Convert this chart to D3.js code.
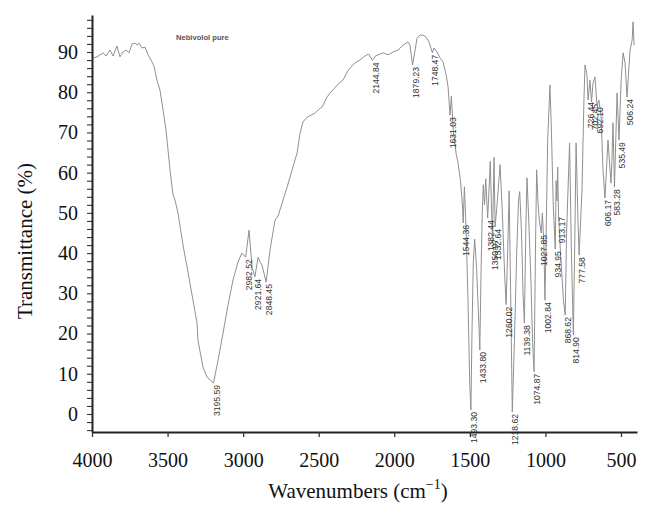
<!DOCTYPE html>
<html>
<head>
<meta charset="utf-8">
<script src="https://cdn.jsdelivr.net/npm/d3@7/dist/d3.min.js"></script>
<style>
  html, body { margin: 0; padding: 0; background: #fff; }
  svg { display: block; }
  .serif { font-family: "Liberation Serif", "DejaVu Serif", "Times New Roman", serif; }
</style>
</head>
<body>
<svg id="chart" width="650" height="517"></svg>
<script>
// ---- Data ----
const wavenumbers = [
  3993,3967,3947,3927,3907,3881,3861,3835,3815,3795,3775,3755,3735,3715,3702,3689,3669,3649,3629,3609,
  3590,3570,3550,3530,3510,3484,3464,3451,3431,3398,3365,3332,3305,3299,3266,3239,3219,3196,3166,3133,
  3100,3067,3034,3008,2983,2961,2941,2922,2901,2888,2875,2848,2822,2789,2769,2736,2709,2676,2643,2623,
  2604,2577,2551,2524,2498,2478,2445,2425,2405,2372,2339,2312,2293,2260,2227,2194,2170,2144,2125,2074,
  2041,2008,1975,1942,1909,1896,1879,1862,1849,1829,1810,1790,1770,1748,1737,1717,1697,1677,1657,1644,
  1631,1622,1610,1590,1578,1562,1549,1544,1536,1525,1512,1501,1493,1486,1477,1468,1455,1440,1434,1426,
  1418,1411,1403,1395,1382,1374,1365,1351,1344,1340,1333,1320,1300,1285,1270,1260,1250,1240,1230,1219,
  1205,1190,1178,1170,1158,1148,1139,1130,1122,1110,1095,1085,1075,1066,1058,1048,1040,1028,1020,1010,
  1003,995,985,970,960,948,935,929,924,919,913,900,880,869,860,840,828,815,805,797,
  786,777,758,745,738,725,718,705,695,685,672,659,646,632,619,606,586,566,560,553,
  543,526,513,499,486,473,460,440,426,420,413
];
const transmittance = [
  88.5,88.8,89.3,89.8,89.0,90.5,89.0,91.5,88.8,90.0,90.5,89.8,92.0,92.2,91.7,92.2,91.0,91.2,89.3,88.0,
  86.5,83.0,80.5,75.6,70.6,60.7,54.5,53.2,50.0,42.0,35.3,28.3,22.6,18.4,11.7,9.2,8.5,7.7,13.4,20.1,
  27.1,33.3,37.8,40.0,39.0,45.7,36.5,34.1,39.0,37.8,37.0,32.8,40.8,48.2,49.2,53.2,56.4,60.7,64.9,69.9,
  72.6,73.8,74.3,74.8,75.8,76.3,78.8,79.8,80.6,82.0,83.0,85.0,86.0,87.3,88.0,89.0,89.5,87.9,89.0,89.8,
  89.3,90.0,90.5,91.7,92.5,91.7,86.8,90.5,93.5,94.2,94.2,93.7,92.5,89.8,91.0,90.0,88.5,87.5,84.3,81.3,
  74.3,79.0,70.6,64.5,62.4,58,52,47.5,56.5,46,28,8,1.0,20,38,43.5,36,22,15.9,35,
  50,57,52,58.5,48.7,55,62.8,44,55,63.8,46.5,52,62,50,35,27.2,40,55.5,30,0.5,
  18,40,53,55.3,45,30,22.6,45,58.7,48,32,18,10.5,40,60.7,52,48,45,50,42,
  28.3,45,68,81.8,70,52,41,58,53,61.4,49.5,40,28,24.6,45,67.4,40,19.6,45,67.4,
  50,39.5,55.7,78,86.8,84.3,78.1,83,77.6,82.3,83.8,76.8,78,74.3,60.7,53.7,68.1,57.4,63,72.4,
  56.4,79.8,68.1,83,89.8,87.3,78.8,90.5,93,97.5,91.7
];

// Peak labels (text) and the trough they are attached to
const peakLabels = ["3195.59","2982.52","2921.64","2848.45","2144.84","1879.23","1748.47","1631.03",
  "1544.36","1493.30","1433.80","1382.44","1350.97","1332.64","1260.02","1218.62","1139.38","1074.87",
  "1027.85","1002.84","934.95","913.17","868.62","814.90","777.58","726.44","702.45","692.10",
  "606.17","583.28","535.49","506.24"];
const peakWn = [3196,2983,2922,2848,2144,1879,1748,1631,1544,1493,1434,1382,1351,1333,1260,1219,1139,1075,
  1028,1003,935,913,869,815,777,718,695,659,606,543,513,460];
const peakT = [7.7,39.0,34.1,32.8,87.9,86.8,89.8,74.3,47.5,1.0,15.9,48.7,44,46.5,27.2,0.5,22.6,10.5,
  45,28.3,41,49.5,24.6,19.6,39.5,78.1,77.6,76.8,53.7,56.4,68.1,78.8];

const xTicks = [4000, 3500, 3000, 2500, 2000, 1500, 1000, 500];
const yTickLabels = [0, 10, 20, 30, 40, 50, 60, 70, 80, 90];
const chartTitle = "Nebivolol pure";

// ---- Layout ----
const svg = d3.select("#chart");
const plotLeft = 92, plotRight = 637, plotTop = 15, plotBottom = 432;

const x = d3.scaleLinear().domain([4000, 394]).range([plotLeft, plotRight]);
const y = d3.scaleLinear().domain([-4.475, 99.2]).range([plotBottom, plotTop]);

const sans = "'Liberation Sans', Arial, sans-serif";

// Spectrum line
const pts = wavenumbers.map((w, i) => [w, transmittance[i]]);
const line = d3.line().x(d => x(d[0])).y(d => y(d[1]));
svg.append("path")
  .datum(pts)
  .attr("d", line)
  .attr("fill", "none")
  .attr("stroke", "#909090")
  .attr("stroke-width", 1)
  .attr("stroke-linejoin", "round");

// Peak labels
svg.append("g").selectAll("text")
  .data(peakLabels)
  .join("text")
  .attr("transform", (d, i) => `translate(${x(peakWn[i]) + 3},${y(peakT[i]) + 2}) rotate(-90)`)
  .attr("text-anchor", "end")
  .attr("dy", "0.35em")
  .style("font-family", sans)
  .style("font-size", "8.6px")
  .attr("fill", "#333")
  .text(d => d);

// Title inside plot
svg.append("text")
  .attr("x", 176).attr("y", 40)
  .style("font-family", sans)
  .style("font-size", "7.6px")
  .style("font-weight", "bold")
  .attr("fill", "#555")
  .text(chartTitle);

// Y axis
const yAxis = d3.axisLeft(y)
  .tickValues(d3.range(-4, 99, 2))
  .tickSize(5)
  .tickSizeOuter(0)
  .tickPadding(9)
  .tickFormat(d => yTickLabels.includes(d) ? String(d) : "");
const gy = svg.append("g").attr("transform", `translate(${plotLeft},0)`).call(yAxis);
gy.attr("font-family", null).attr("font-size", null);
gy.select(".domain").attr("stroke", "#222").attr("stroke-width", 2);
gy.selectAll(".tick line").attr("stroke", "#333").attr("stroke-width", 1.1);
gy.selectAll(".tick text").attr("class", "serif").style("font-size", "20px").attr("fill", "#111");

// X axis
const xAxis = d3.axisBottom(x)
  .tickValues(xTicks)
  .tickSize(5)
  .tickSizeOuter(0)
  .tickPadding(16)
  .tickFormat(d => String(d));
const gx = svg.append("g").attr("transform", `translate(0,${plotBottom})`).call(xAxis);
gx.attr("font-family", null).attr("font-size", null);
gx.select(".domain").attr("stroke", "#222").attr("stroke-width", 2);
gx.selectAll(".tick line").attr("stroke", "#333").attr("stroke-width", 1.3);
gx.selectAll(".tick text").attr("class", "serif").style("font-size", "20px").attr("fill", "#111");

// Axis titles
svg.append("text")
  .attr("class", "serif")
  .attr("transform", "translate(32,241) rotate(-90)")
  .attr("text-anchor", "middle")
  .style("font-size", "21px")
  .attr("fill", "#111")
  .text("Transmittance (%)");

const xt = svg.append("text")
  .attr("class", "serif")
  .attr("x", 358).attr("y", 498)
  .attr("text-anchor", "middle")
  .style("font-size", "21px")
  .attr("fill", "#111");
xt.append("tspan").text("Wavenumbers (cm");
xt.append("tspan").style("font-size", "14px").attr("dy", -9).text("\u22121");
xt.append("tspan").attr("dy", 9).text(")");
</script>
</body>
</html>
